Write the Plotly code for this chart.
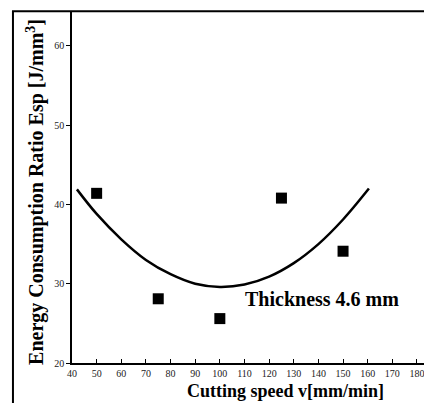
import plotly.graph_objects as go

# measured points
speed = [50, 75, 100, 125, 150]
esp = [41.4, 28.1, 25.6, 40.8, 34.1]

# fitted curve
curve_x = [42, 50, 60, 70, 80, 90, 100, 110, 120, 130, 140, 150, 160.5]
curve_y = [41.9, 38.8, 35.6, 33.0, 31.2, 30.0, 29.6, 29.9, 30.9, 32.6, 35.0, 38.1, 42.0]

x_ticks = list(range(40, 190, 10))
y_ticks = [20, 30, 40, 50, 60]

serif = "Liberation Serif, Times New Roman, serif"

fig = go.Figure()
fig.add_trace(go.Scatter(x=curve_x, y=curve_y, mode="lines",
                         line=dict(color="black", width=2.5, shape="spline"),
                         showlegend=False, hoverinfo="skip"))
fig.add_trace(go.Scatter(x=speed, y=esp, mode="markers",
                         marker=dict(symbol="square", size=11, color="black"),
                         showlegend=False))

# page body has an 8px margin, so the figure is offset by (8, 8)
fig.update_layout(
    width=424, height=395,
    margin=dict(l=64, r=0, t=3, b=40),
    paper_bgcolor="white", plot_bgcolor="white",
    font=dict(family=serif, color="black"),
    xaxis=dict(range=[40, 186.1], tickvals=x_ticks, showgrid=False, zeroline=False,
               showline=True, linecolor="black", linewidth=1.5,
               ticks="inside", ticklen=4, tickcolor="black",
               tickfont=dict(size=10, color="#222", family=serif),
               automargin=False),
    yaxis=dict(range=[20, 64.4], tickvals=y_ticks, showgrid=False, zeroline=False,
               showline=True, linecolor="black", linewidth=1.5,
               ticks="outside", ticklen=4, tickcolor="black",
               tickfont=dict(size=10, color="#222", family=serif),
               automargin=False),
    annotations=[
        dict(x=109.4, y=28.1, xref="x", yref="y", xanchor="left", yanchor="middle",
             text="<b>Thickness 4.6 mm</b>", showarrow=False,
             font=dict(size=20, family=serif, color="black")),
        dict(x=0.594, y=-0.0795, xref="paper", yref="paper", xanchor="center", yanchor="middle",
             text="<b>Cutting speed v[mm/min]</b>", showarrow=False,
             font=dict(size=18, family=serif, color="black")),
        dict(x=-0.1, y=0.486, xref="paper", yref="paper", xanchor="center", yanchor="middle",
             text="<b>Energy Consumption Ratio Esp [J/mm<sup>3</sup>]</b>", showarrow=False,
             textangle=-90, font=dict(size=20, family=serif, color="black")),
    ],
    shapes=[dict(type="rect", xref="paper", yref="paper", x0=-0.164, x1=1.05, y0=-0.3, y1=0.999,
                 line=dict(color="black", width=2))],
)

fig.write_html("out.html")
